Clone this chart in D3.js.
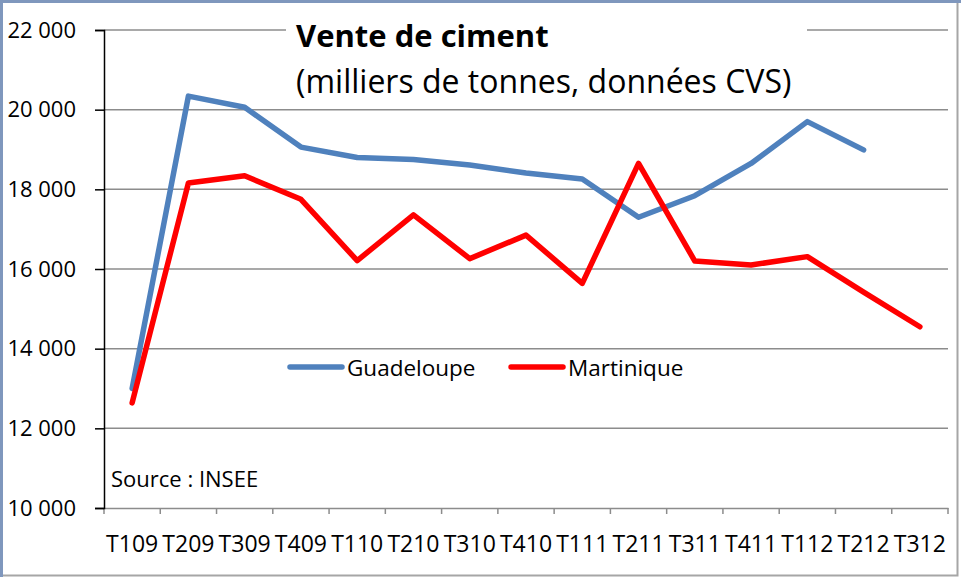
<!DOCTYPE html>
<html>
<head>
<meta charset="utf-8">
<script src="https://cdn.jsdelivr.net/npm/d3@7"></script>
<style>
  body { margin: 0; background: #fff; }
  text { font-family: "Open Sans", sans-serif; fill: #000; }
</style>
</head>
<body>
<script>
// quarters (T + quarter + year)
const quarters = ["T109", "T209", "T309", "T409", "T110", "T210", "T310", "T410",
                  "T111", "T211", "T311", "T411", "T112", "T212", "T312"];
// cement sales, thousands of tonnes, seasonally adjusted
const guadeloupe = [13000, 20340, 20060, 19060, 18800, 18750, 18610, 18410,
                    18260, 17300, 17840, 18650, 19700, 18990, null];
const martinique = [12640, 18160, 18340, 17750, 16210, 17360, 16260, 16850,
                    15640, 18650, 16200, 16100, 16310, 15420, 14550];
const yTicks = [10000, 12000, 14000, 16000, 18000, 20000, 22000];

const series = [
  {name: "Guadeloupe", values: guadeloupe, color: "#4f81bd"},
  {name: "Martinique", values: martinique, color: "#ff0000"}
];

const W = 961, H = 577;
const FONT = "'Open Sans', sans-serif";
const svg = d3.select("body").append("svg")
    .attr("width", W)
    .attr("height", H);

// outer frame
svg.append("rect").attr("x", 0).attr("y", 0).attr("width", W).attr("height", H).attr("fill", "#fff");
svg.append("path").attr("d", `M1.5,${H} V1.5 H${W}`).attr("fill", "none").attr("stroke", "#7f97bd").attr("stroke-width", 3);
svg.append("path").attr("d", `M3,575.5 H957.5 V3`).attr("fill", "none").attr("stroke", "#a6a6a6").attr("stroke-width", 2);

const x = d3.scaleBand().domain(quarters).range([104, 948]);
const y = d3.scaleLinear().domain([10000, 22000]).range([508, 30]);

const fr = d3.formatLocale({decimal: ",", thousands: "\u00a0", grouping: [3], currency: ["", " €"]});
const fmt = fr.format(",");

// gridlines
svg.append("g").selectAll("line")
    .data(yTicks.filter(d => d > 10000))
    .join("line")
    .attr("x1", 104).attr("x2", 948)
    .attr("y1", d => y(d)).attr("y2", d => y(d))
    .attr("stroke", "#8c8c8c").attr("stroke-width", 1.5);

// x axis
const xAxis = svg.append("g")
    .attr("transform", `translate(0,${y(10000)})`)
    .call(d3.axisBottom(x).tickSize(0).tickPadding(28));
xAxis.select(".domain").attr("stroke", "#8c8c8c").attr("stroke-width", 1.5);
xAxis.selectAll("text").attr("font-size", 23).attr("fill", "#000").style("font-family", FONT);
const edges = quarters.map(q => x(q)).concat([x(quarters[quarters.length - 1]) + x.bandwidth()]);
xAxis.append("g").selectAll("line")
    .data(edges)
    .join("line")
    .attr("x1", d => d).attr("x2", d => d)
    .attr("y1", 0).attr("y2", 6)
    .attr("stroke", "#8c8c8c").attr("stroke-width", 1.5);

// y axis
const yAxis = svg.append("g")
    .attr("transform", "translate(104,0)")
    .call(d3.axisLeft(y).tickValues(yTicks).tickFormat(fmt).tickSize(9).tickPadding(19));
yAxis.select(".domain").attr("stroke", "#000").attr("stroke-width", 1.5);
yAxis.selectAll(".tick line").attr("stroke", "#000").attr("stroke-width", 1.5);
yAxis.selectAll("text").attr("font-size", 22).attr("fill", "#000").style("font-family", FONT);

// lines
const line = d3.line()
    .defined(d => d.v != null)
    .x(d => x(d.q) + x.bandwidth() / 2)
    .y(d => y(d.v));

svg.append("g").selectAll("path")
    .data(series)
    .join("path")
    .attr("d", s => line(s.values.map((v, i) => ({q: quarters[i], v: v}))))
    .attr("fill", "none")
    .attr("stroke", s => s.color)
    .attr("stroke-width", 5.5)
    .attr("stroke-linejoin", "round")
    .attr("stroke-linecap", "round");

// title box
svg.append("rect").attr("x", 286).attr("y", 12).attr("width", 521).attr("height", 92).attr("fill", "#fff");
svg.append("text").attr("x", 296).attr("y", 47)
    .attr("font-size", 31).attr("font-weight", "bold")
    .text("Vente de ciment");
svg.append("text").attr("x", 296).attr("y", 93)
    .attr("font-size", 32)
    .text("(milliers de tonnes, données CVS)");

// legend
const legend = svg.append("g").selectAll("g")
    .data(series)
    .join("g")
    .attr("transform", (d, i) => `translate(${290 + i * 221},367)`);
legend.append("line")
    .attr("x1", 0).attr("x2", 52)
    .attr("stroke", d => d.color).attr("stroke-width", 5.5).attr("stroke-linecap", "round");
legend.append("text")
    .attr("x", 57).attr("y", 9)
    .attr("font-size", 22.5)
    .text(d => d.name);

// source
svg.append("text").attr("x", 111).attr("y", 487)
    .attr("font-size", 22)
    .text("Source : INSEE");
</script>
</body>
</html>
